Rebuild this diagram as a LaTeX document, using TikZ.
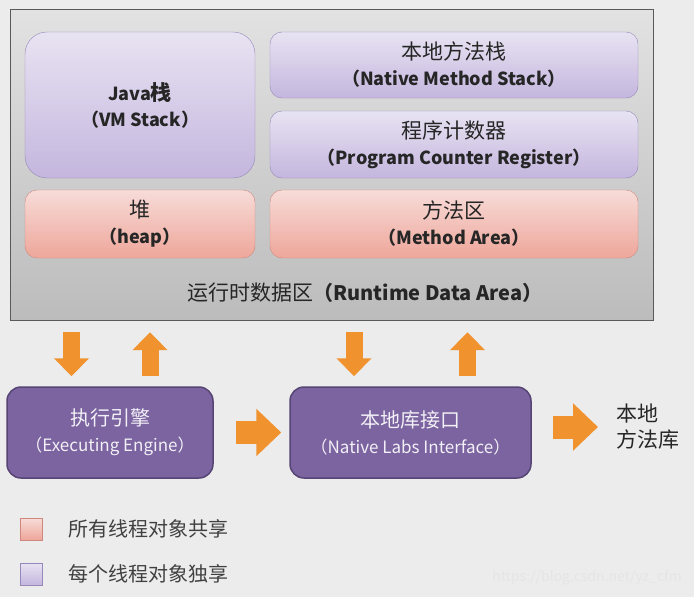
\documentclass[tikz,border=0pt]{standalone}
\usepackage{fontspec}
\setmainfont{Noto Sans CJK SC}
\usepackage{tikz}
\usetikzlibrary{arrows.meta,calc,positioning}
\definecolor{bg}{RGB}{236,236,236}
\definecolor{areatop}{RGB}{226,226,226}
\definecolor{areabot}{RGB}{188,188,188}
\definecolor{lavtop}{RGB}{232,227,242}
\definecolor{lav}{RGB}{196,182,222}
\definecolor{lavline}{RGB}{150,136,186}
\definecolor{pnktop}{RGB}{247,220,216}
\definecolor{pnk}{RGB}{238,166,154}
\definecolor{pnkline}{RGB}{206,136,126}
\definecolor{eng}{RGB}{123,100,160}
\definecolor{engline}{RGB}{86,68,116}
\definecolor{org}{RGB}{240,146,46}
\newcommand{\zh}{\fontsize{21}{26}\selectfont}

\begin{document}
\begin{tikzpicture}[x=1pt,y=-1pt,
  thread/.style={draw=lavline,rounded corners=12pt,top color=lavtop,bottom color=lav,
    align=center,inner sep=0pt,text=black!85,font=\fontsize{18}{26}\selectfont},
  shared/.style={thread,draw=pnkline,top color=pnktop,bottom color=pnk},
  engine/.style={draw=engline,line width=1.5pt,fill=eng,rounded corners=14pt,align=center,
    text=white!90!eng,font=\fontsize{17}{26}\selectfont,minimum height=91pt},
  flow/.style={org,line width=17pt,-{Triangle[width=34pt,length=18pt]}},
  push/.style={org,line width=23pt,-{Triangle[width=46pt,length=25pt]}},
  key/.style={minimum size=22pt,inner sep=0pt},
  keytext/.style={right=26pt of #1,inner sep=0pt,text=black!75,font=\fontsize{20}{22}\selectfont}]
  \fill[bg] (0,0) rectangle (694,597);
  \useasboundingbox (0,0) rectangle (694,597);
  % runtime data area
  \node[draw=black!65,top color=areatop,bottom color=areabot,minimum width=643pt,minimum height=311pt] (rda) at (331.5,164.5) {};
  \node[thread,rounded corners=22pt,minimum width=230pt,minimum height=146pt] (vms) at (140,105) {{\bfseries Java{\zh 栈}}\\{\bfseries （VM Stack）}};
  \node[shared,minimum width=230pt,minimum height=68pt] (heap) at (140,224) {{\zh 堆}\\{\bfseries （heap）}};
  \node[thread,minimum width=368pt,minimum height=66pt] (nms) at (454,65) {{\zh 本地方法栈}\\{\bfseries （Native Method Stack）}};
  \node[thread,minimum width=368pt,minimum height=67pt] (pcr) at (454,144.5) {{\zh 程序计数器}\\{\bfseries （Program Counter Register）}};
  \node[shared,minimum width=368pt,minimum height=68pt] (meth) at (454,224) {{\zh 方法区}\\{\bfseries （Method Area）}};
  \node[text=black!85,font=\fontsize{20}{22}\selectfont] (rdalbl) at (365,293) {{\zh 运行时数据区}{\bfseries （Runtime Data Area）}};
  % engine and native interface
  \node[engine,minimum width=206pt] (exe) at (110,432.5) {{\fontsize{20}{26}\selectfont 执行引擎}\\（Executing Engine）};
  \node[engine,minimum width=241pt] (nli) at (410.5,432.5) {{\fontsize{20}{26}\selectfont 本地库接口}\\（Native Labs Interface）};
  \node[anchor=west,align=left,inner sep=0pt,text=black!85,font=\fontsize{21}{26}\selectfont] (lib) at (616,427) {本地\\方法库};
  \coordinate (d1) at ([xshift=-38.5pt]exe.north);
  \coordinate (u1) at ([xshift=40pt]exe.north);
  \coordinate (d2) at ([xshift=-56.5pt]nli.north);
  \coordinate (u2) at ([xshift=57pt]nli.north);
  \draw[flow,shorten <=12pt,shorten >=10pt] (d1 |- rda.south) -- (d1);
  \draw[flow,shorten <=10pt,shorten >=12pt] (u1) -- (u1 |- rda.south);
  \draw[flow,shorten <=12pt,shorten >=10pt] (d2 |- rda.south) -- (d2);
  \draw[flow,shorten <=10pt,shorten >=12pt] (u2) -- (u2 |- rda.south);
  \draw[push,shorten <=22pt,shorten >=8pt] (exe.east) -- (nli.west);
  \draw[push,shorten <=21pt,shorten >=18pt] (nli.east |- lib.west) -- (lib.west);
  % legend
  \node[key,draw=pnkline,top color=pnktop,bottom color=pnk] (k1) at (31.5,529) {};
  \node[keytext=k1] (t1) {所有线程对象共享};
  \node[key,draw=lavline,top color=lavtop,bottom color=lav] (k2) at (31.5,574) {};
  \node[keytext=k2] (t2) {每个线程对象独享};
  \node[text=white!80!gray,font=\fontsize{14}{16}\selectfont] (wm) at (587,578) {https://blog.csdn.net/yz\_cfm};
\end{tikzpicture}
\end{document}
